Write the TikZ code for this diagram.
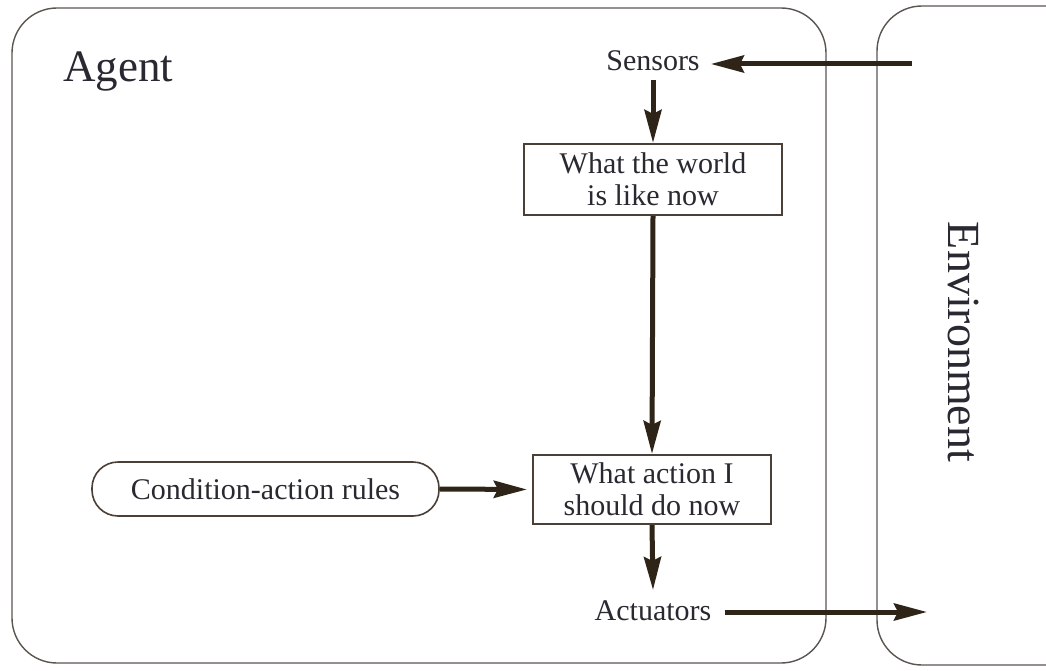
\documentclass[tikz,border=0pt]{standalone}
\usepackage{fontspec}
\setmainfont{Liberation Serif}
\usetikzlibrary{arrows.meta}
\definecolor{frame}{HTML}{5A5550}
\definecolor{ink}{HTML}{2E2418}
\definecolor{boxline}{HTML}{4A4038}
\definecolor{txt}{HTML}{2A2830}
\begin{document}
\begin{tikzpicture}[x=1pt,y=-1pt,
  region/.style={draw=frame, line width=1.4pt, rounded corners=45pt},
  infobox/.style={draw=boxline, line width=2.2pt, align=center, text=txt,
    font=\fontsize{30}{32}\selectfont, inner sep=0pt},
  rulebox/.style={draw=boxline, line width=1.6pt, rounded corners=26pt, text=txt,
    font=\fontsize{30}{32}\selectfont, inner sep=0pt},
  label/.style={text=txt, font=\fontsize{30}{32}\selectfont, inner sep=0pt},
  flow/.style={draw=ink, line width=5pt,
    -{Stealth[length=33pt,width=17pt,inset=4pt]}}]
  \clip (0,0) rectangle (1046,671);
  \fill[white] (0,0) rectangle (1046,671);

  % agent and environment regions
  \draw[region] (12,8) rectangle (826,663);
  \draw[region] (877,6) rectangle (1090,665);
  \node[text=txt, font=\fontsize{45}{50}\selectfont, anchor=base west, inner sep=0pt]
    (agent) at (63,82) {Agent};
  \node[text=txt, font=\fontsize{46}{50}\selectfont, rotate=-90, inner sep=0pt]
    (env) at (963,342) {Environment};

  % sensing and acting ports
  \node[label, anchor=base, inner xsep=11pt, inner ysep=9pt] (sensors) at (653,71) {Sensors};
  \node[label, anchor=base, inner xsep=13pt, inner ysep=10pt] (actuators) at (653,620) {Actuators};

  % internal modules
  \node[infobox, minimum width=258pt, minimum height=71pt] (world) at (653,179.5)
    {What the world\\is like now};
  \node[infobox, minimum width=238pt, minimum height=69pt] (action) at (652,489.5)
    {What action I\\should do now};
  \node[rulebox, minimum width=347pt, minimum height=54pt] (rules) at (265.5,489)
    {Condition-action rules};

  % connectors
  \coordinate (percept) at (912,64);
  \coordinate (effect) at (927,612);
  \draw[flow] (percept) -- (percept -| sensors.east);
  \draw[flow] (sensors.south) -- (world.north);
  \draw[flow] (world.south) -- (action.north);
  \draw[flow, shorten >=5pt] (rules.east) -- (action.west);
  \draw[flow] (action.south) -- (actuators.north);
  \draw[flow] (actuators.east |- effect) -- (effect);
\end{tikzpicture}
\end{document}
